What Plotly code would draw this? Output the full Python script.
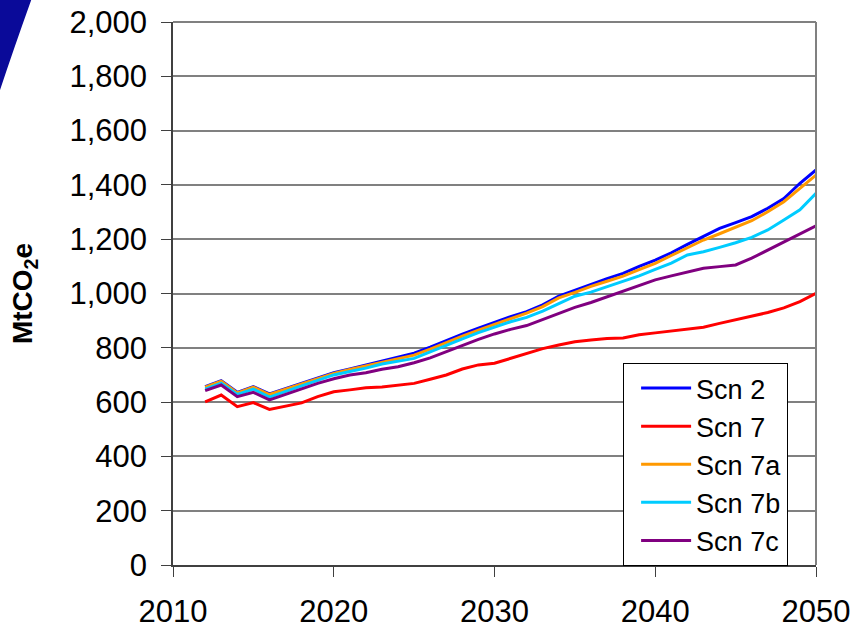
import plotly.graph_objects as go

years = list(range(2012, 2051))

scn2 = [657, 679, 636, 657, 630, 650, 670, 690, 708, 722, 737, 752, 766, 780, 802, 827, 850, 872, 893, 915,
        933, 958, 990, 1012, 1034, 1055, 1074, 1100, 1123, 1150, 1181, 1212, 1240, 1261, 1283, 1314, 1350, 1406, 1455]
scn7 = [601, 626, 583, 598, 573, 584, 597, 620, 638, 645, 653, 656, 662, 669, 684, 700, 722, 737, 743, 761,
        780, 797, 810, 822, 829, 834, 836, 848, 855, 862, 869, 876, 890, 903, 915, 930, 947, 970, 1001]
scn7a = [655, 677, 634, 655, 628, 648, 668, 688, 706, 720, 733, 747, 760, 773, 795, 820, 843, 865, 886, 908,
         928, 952, 984, 1004, 1026, 1045, 1064, 1088, 1111, 1140, 1169, 1197, 1220, 1244, 1268, 1301, 1338, 1387, 1436]
scn7b = [648, 670, 628, 648, 618, 640, 660, 680, 700, 713, 725, 740, 750, 761, 785, 810, 833, 856, 876, 896,
         912, 935, 963, 990, 1005, 1025, 1043, 1065, 1089, 1112, 1142, 1154, 1170, 1187, 1207, 1234, 1271, 1308, 1369]
scn7c = [642, 663, 620, 636, 608, 629, 648, 669, 686, 700, 708, 721, 730, 745, 763, 786, 810, 831, 851, 868,
         882, 904, 927, 949, 967, 988, 1007, 1030, 1050, 1065, 1080, 1093, 1099, 1105, 1130, 1160, 1191, 1222, 1249]

series_names = ["Scn 2", "Scn 7", "Scn 7a", "Scn 7b", "Scn 7c"]
series_values = [scn2, scn7, scn7a, scn7b, scn7c]
series_colors = ["#0000FF", "#FF0000", "#FF9900", "#00CCFF", "#800080"]

x_ticks = [2010, 2020, 2030, 2040, 2050]
y_ticks = list(range(0, 2001, 200))

FONT = "Liberation Sans, Arial, sans-serif"

fig = go.Figure()
for name, vals, col in zip(series_names, series_values, series_colors):
    fig.add_trace(go.Scatter(x=years, y=vals, mode="lines", name=name, legendgroup=name,
                             line=dict(color=col, width=3)))

fig.update_layout(
    width=854, height=627,
    margin=dict(l=173, r=38, t=22, b=62),
    paper_bgcolor="white", plot_bgcolor="white",
    font=dict(family=FONT, color="black", size=31),
    showlegend=True,
    legend=dict(x=0.700, y=0.372, xanchor="left", yanchor="top",
                bgcolor="white", bordercolor="black", borderwidth=1,
                font=dict(size=27, family=FONT), tracegroupgap=0,
                itemwidth=50, indentation=12),
    xaxis=dict(range=[2010, 2050], tickvals=x_ticks, ticks="outside", ticklen=10,
               tickcolor="#404040", showline=True, linecolor="#404040", linewidth=1.5,
               showgrid=False, zeroline=False, ticklabelstandoff=8, automargin=False,
               ticklabeloverflow="allow", tickfont=dict(size=31)),
    yaxis=dict(range=[0, 2000], tickvals=y_ticks, tickformat=",d", ticks="outside", ticklen=10,
               tickcolor="#404040", showline=True, linecolor="#404040", linewidth=1.5,
               showgrid=True, gridcolor="#808080", gridwidth=1.5, zeroline=False,
               ticklabelstandoff=8, tickfont=dict(size=31), automargin=False,
               ticklabeloverflow="allow",
               title=dict(text="<b>MtCO<sub>2</sub>e</b>", font=dict(size=28), standoff=29)),
    shapes=[
        dict(type="line", xref="x domain", yref="y domain", x0=0, x1=1, y0=1, y1=1,
             line=dict(color="#808080", width=2)),
        dict(type="line", xref="x domain", yref="y domain", x0=1, x1=1, y0=0, y1=1,
             line=dict(color="#808080", width=2)),
        dict(type="path", xref="paper", yref="paper", layer="above",
             path="M -0.30,1.06 L -0.2146,1.06 Q -0.245,0.96 -0.269,0.875 L -0.30,0.875 Z",
             fillcolor="#0a0a99", line=dict(width=0)),
    ],
)

fig.write_html("out.html", config={"displayModeBar": False},
               post_script="document.body.style.margin='0';document.body.style.overflow='hidden';")
